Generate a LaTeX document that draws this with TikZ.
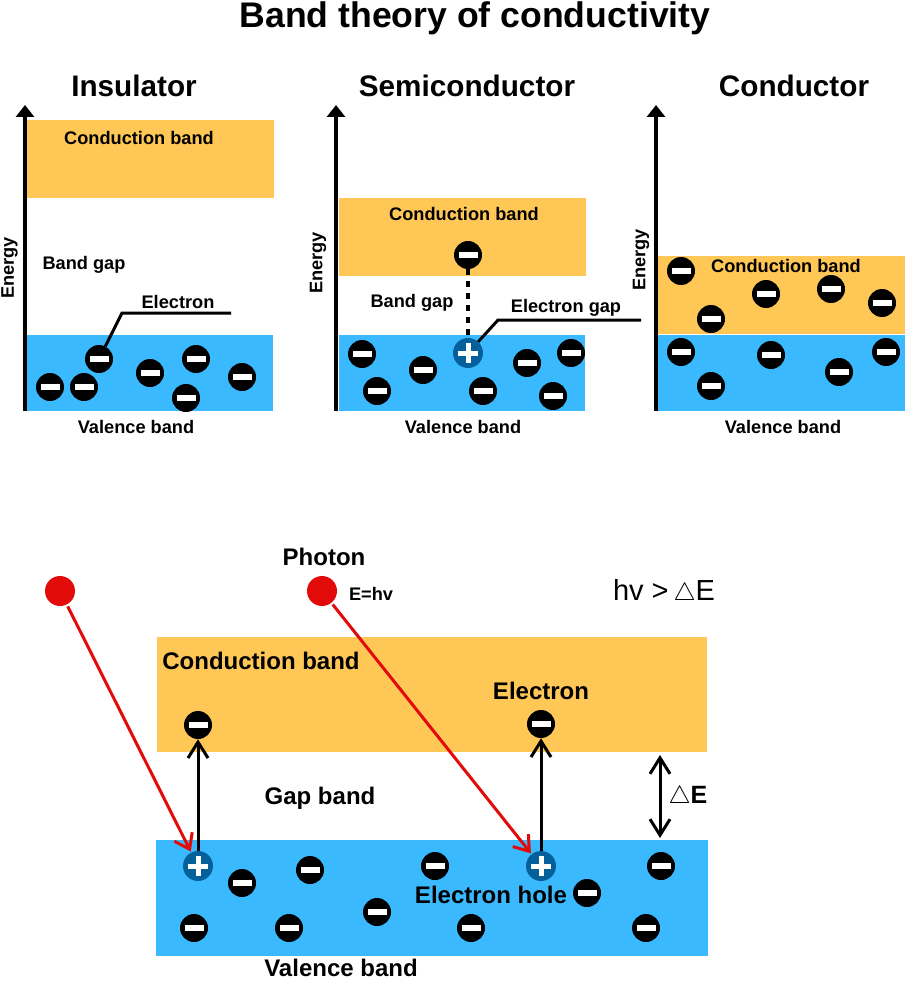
\documentclass[tikz,border=0pt]{standalone}
\usepackage{amsmath}
\usepackage{amssymb}
\usepackage{fontspec}
\setmainfont{Liberation Sans}
\usetikzlibrary{arrows.meta}
\definecolor{condcol}{HTML}{FFC756}
\definecolor{valcol}{HTML}{3BB9FF}
\definecolor{holecol}{HTML}{04609A}
\definecolor{photoncol}{HTML}{E30A0A}
\tikzset{
	title/.style={inner sep=0pt, font=\fontsize{35.6}{40}\selectfont\bfseries},
	head/.style={inner sep=0pt, font=\fontsize{29.7}{32}\selectfont\bfseries},
	small/.style={inner sep=0pt, font=\fontsize{18.2}{20}\selectfont\bfseries},
	large/.style={inner sep=0pt, font=\fontsize{24}{26}\selectfont\bfseries},
	energy/.style={small, rotate=90},
	electron/.style={circle, fill=black, inner sep=0pt, minimum size=28pt,
		path picture={\fill[white] ([xshift=-9.5pt,yshift=-3pt]path picture bounding box.center) rectangle ([xshift=9.5pt,yshift=3pt]path picture bounding box.center);}},
	hole/.style={circle, fill=holecol, inner sep=0pt, minimum size=30pt,
		path picture={\fill[white] ([xshift=-10pt,yshift=-2.5pt]path picture bounding box.center) rectangle ([xshift=10pt,yshift=2.5pt]path picture bounding box.center);
			\fill[white] ([xshift=-2.5pt,yshift=-10pt]path picture bounding box.center) rectangle ([xshift=2.5pt,yshift=10pt]path picture bounding box.center);}},
	photon/.style={circle, fill=photoncol, inner sep=0pt, minimum size=30pt},
	axis/.style={line width=4.5pt, -{Triangle[length=12pt,width=18pt]}},
	leader/.style={line width=3pt},
	jump/.style={line width=3pt, -{Straight Barb[length=16pt,width=20pt,line width=3pt]}},
	hit/.style={line width=3pt, photoncol, -{Straight Barb[length=14pt,width=20pt,line width=3pt]}, shorten <=2pt, shorten >=1pt}
}
\begin{document}
\begin{tikzpicture}[x=1pt, y=-1pt]
	\useasboundingbox (0, 0) rectangle (905, 1000);
	\node at (475, 18) [title] (maintitle) {Band theory of conductivity};
	\node at (134, 86) [head] (insname) {Insulator};
	\node at (467, 86) [head] (semname) {Semiconductor};
	\node at (794, 86) [head] (conname) {Conductor};
	% bands
	\fill [condcol] (27, 120) rectangle (274, 198);
	\fill [valcol] (27, 335) rectangle (273, 411);
	\fill [condcol] (339, 198) rectangle (586, 276);
	\fill [valcol] (339, 335) rectangle (585, 411);
	\fill [condcol] (658, 256) rectangle (905, 334);
	\fill [valcol] (658, 335) rectangle (905, 411);
	\fill [condcol] (157, 637) rectangle (707, 752);
	\fill [valcol] (156, 840) rectangle (708, 956);
	% energy axes
	\foreach \x/\n in {25/ins, 336/sem, 656/con} {
		\coordinate (\n low) at (\x, 411);
		\coordinate (\n top) at (\x, 105);
		\draw [axis] (\n low) -- (\n top);
	}
	\node at (9.5, 268) [energy] (insenergy) {Energy};
	\node at (318, 263) [energy] (semenergy) {Energy};
	\node at (641, 260) [energy] (conenergy) {Energy};
	% insulator
	\foreach \x/\y [count=\i] in {50/387, 84/387, 99/359, 150/373, 196/359, 186/398, 242/377}
		\node at (\x, \y) [electron] (ins\i) {};
	\node at (139, 138) [small] (inscond) {Conduction band};
	\node at (84, 265) [small] (insgap) {Band gap};
	\node at (178, 302) [small] (inselectron) {Electron};
	\node at (136, 427) [small] (insval) {Valence band};
	\coordinate (insbend) at (122, 313);
	\coordinate (insend) at (231, 313);
	\draw [leader] (ins3) -- (insbend) -- (insend);
	% semiconductor
	\foreach \x/\y [count=\i] in {362/354, 377/391, 423/370, 483/391, 527/363, 553/396, 571/353}
		\node at (\x, \y) [electron] (sem\i) {};
	\node at (468, 255) [electron] (semup) {};
	\node at (468, 353) [hole] (semhole) {};
	\draw [leader, line width=3.5pt, dash pattern=on 6pt off 6pt] (semup) -- (semhole);
	\node at (464, 214) [small] (semcond) {Conduction band};
	\node at (412, 303) [small] (semgap) {Band gap};
	\node at (566, 308) [small] (semelectron) {Electron gap};
	\node at (463, 427) [small] (semval) {Valence band};
	\coordinate (sembend) at (498, 320);
	\coordinate (semend) at (641, 320);
	\draw [leader] (semhole) -- (sembend) -- (semend);
	% conductor
	\foreach \x/\y [count=\i] in {681/271, 711/319, 766/294, 831/289, 882/303, 681/352, 711/386, 771/355, 839/372, 886/352}
		\node at (\x, \y) [electron] (con\i) {};
	\node at (786, 266) [small] (concond) {Conduction band};
	\node at (783, 427) [small] (conval) {Valence band};
	% photons
	\foreach \x/\y [count=\i] in {242/883, 310/870, 435/866, 587/893, 661/866, 194/928, 289/928, 377/912, 471/928, 646/928}
		\node at (\x, \y) [electron] (low\i) {};
	\node at (198, 725) [electron] (upa) {};
	\node at (541, 724) [electron] (upb) {};
	\node at (198, 866) [hole] (holea) {};
	\node at (541, 866) [hole] (holeb) {};
	\node at (60, 591) [photon] (photona) {};
	\node at (322, 591) [photon] (photonb) {};
	\draw [jump] (holea) -- (upa);
	\draw [jump] (holeb) -- (upb);
	\draw [hit] (photona) -- (holea);
	\draw [hit] (photonb) -- (holeb);
	\coordinate (gaptop) at (660, 755);
	\coordinate (gapbot) at (660, 838);
	\draw [jump, {Straight Barb[length=16pt,width=20pt,line width=3pt]}-{Straight Barb[length=16pt,width=20pt,line width=3pt]}] (gaptop) -- (gapbot);
	\node at (324, 557) [large] (photonname) {Photon};
	\node at (371, 594) [small] (photonE) {E=hv};
	\node at (664, 592) [inner sep=0pt, font=\fontsize{29}{32}\selectfont] (cond) {hv >\,$\triangle$E};
	\node at (261, 661) [large] (lowcond) {Conduction band};
	\node at (541, 691) [large] (lowelectron) {Electron};
	\node at (320, 798) [large] (lowgap) {Gap band};
	\node at (491, 895) [large] (lowhole) {Electron hole};
	\node at (341, 968) [large] (lowval) {Valence band};
	\node at (688, 797) [inner sep=0pt, font=\fontsize{25}{28}\selectfont] (delta) {$\triangle$\textbf{E}};
\end{tikzpicture}
\end{document}
